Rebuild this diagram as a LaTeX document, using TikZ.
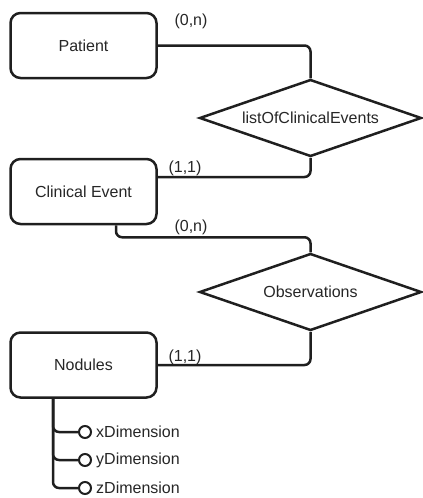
\documentclass[tikz,border=0pt]{standalone}
\usepackage{fontspec}
\setmainfont{Liberation Sans}
\usetikzlibrary{shapes.geometric}
\begin{document}
\begin{tikzpicture}[x=1pt,y=-1pt,
  every node/.style={font=\fontsize{16}{19}\selectfont, text=black!85},
  entity/.style={draw=black!88, line width=2.5pt, rounded corners=10pt, minimum width=146pt, minimum height=65pt, inner sep=0pt},
  relation/.style={draw=black!88, line width=2.5pt, diamond, aspect=2.87, minimum width=222pt, minimum height=77pt, inner sep=0pt},
  conn/.style={draw=black!88, line width=2.5pt, rounded corners=6pt},
  attr/.style={draw=black!88, line width=2pt, circle, minimum size=12pt, inner sep=0pt, fill=white},
  card/.style={inner sep=0pt},
  attrtext/.style={anchor=west, inner sep=0pt}]
\useasboundingbox (0,0) rectangle (423,498);
\node[entity] (patient) at (83.5,45.5) {Patient};
\node[entity] (ce) at (83.5,191.5) {Clinical Event};
\node[entity] (nod) at (83.5,365) {Nodules};
\node[relation] (d1) at (310.5,118) {listOfClinicalEvents};
\node[relation] (d2) at (310.5,292) {Observations};
\draw[conn] (patient.east) -| (d1.north);
\draw[conn] (d1.south) |- ([yshift=14.5pt]ce.east);
\draw[conn] ([xshift=32.5pt]ce.south) |- ([yshift=15pt]d2.north) -- (d2.north);
\draw[conn] (d2.south) |- (nod.east);
\node[card] (c1) at (191,21) {(0,n)};
\node[card] (c2) at (185,168) {(1,1)};
\node[card] (c3) at (191,227) {(0,n)};
\node[card] (c4) at (185,357) {(1,1)};
\node[attr] (ax) at (85,432) {};
\node[attr] (ay) at (85,460) {};
\node[attr] (az) at (85,488) {};
\draw[conn] ([xshift=-30.5pt]nod.south) |- (ax.west);
\draw[conn] ([xshift=-30.5pt]nod.south) |- (ay.west);
\draw[conn] ([xshift=-30.5pt]nod.south) |- (az.west);
\node[attrtext] (tx) at (96,432) {xDimension};
\node[attrtext] (ty) at (96,460) {yDimension};
\node[attrtext] (tz) at (96,488) {zDimension};
\end{tikzpicture}
\end{document}
